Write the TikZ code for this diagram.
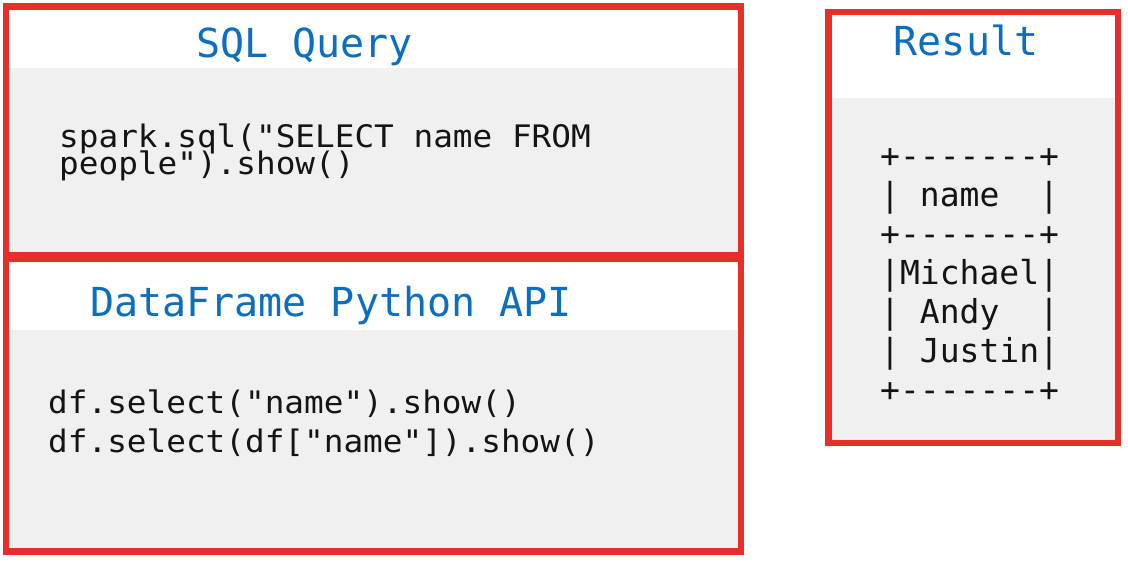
\documentclass[tikz,border=0pt]{standalone}
\usepackage{fontspec}
\newfontfamily\dvmono[Ligatures=TeXOff]{DejaVu Sans Mono}
\newfontfamily\dvmonowide[Ligatures=TeXOff,FakeStretch=1.055]{DejaVu Sans Mono}
\definecolor{boxred}{RGB}{232,46,40}
\definecolor{panelgray}{RGB}{240,240,240}
\definecolor{titleblue}{RGB}{12,110,192}
\definecolor{codeblack}{RGB}{20,20,20}
\begin{document}
\begin{tikzpicture}[x=1pt,y=-1pt,
  panel/.style={fill=panelgray,draw=none},
  frame/.style={draw=boxred,line width=6.5pt},
  heading/.style={font=\dvmono\fontsize{40}{48}\selectfont,text=titleblue,anchor=base,inner sep=0pt},
  code/.style={font=\dvmonowide\fontsize{31}{37}\selectfont,text=codeblack,anchor=base west,inner sep=0pt},
  tblline/.style={font=\dvmono\fontsize{33}{39}\selectfont,text=codeblack,anchor=base west,inner sep=0pt}]
\fill[white] (0,0) rectangle (1128,565);
\useasboundingbox (0,0) rectangle (1128,565);
% grey panels
\fill[panel] (6,68) rectangle (741,255);
\fill[panel] (6,330) rectangle (741,551);
\fill[panel] (828,98) rectangle (1118,443);
% red frames
\draw[frame] (6,6.5) rectangle (741,255);
\draw[frame] (6,258.5) rectangle (741,551.5);
\draw[frame] (828.5,12) rectangle (1118,443);
% headings
\node[heading] (sqlt) at (304.5,57) {SQL Query};
\node[heading] (dft) at (331,316) {DataFrame Python API};
\node[heading] (rest) at (966,55) {Result};
% code
\node[code] (sql1) at (59,147) {spark.sql("SELECT name FROM};
\node[code] (sql2) at (59,174) {people").show()};
\node[code] (df1) at (48,413) {df.select("name").show()};
\node[code] (df2) at (48,452) {df.select(df["name"]).show()};
% result table
\foreach \row [count=\i from 0] in {+-------+,|~name~~|,+-------+,|Michael|,|~Andy~~|,|~Justin|,+-------+}
  \node[tblline] (tbl\i) at (880,{167+39*\i}) {\row};
\end{tikzpicture}
\end{document}
